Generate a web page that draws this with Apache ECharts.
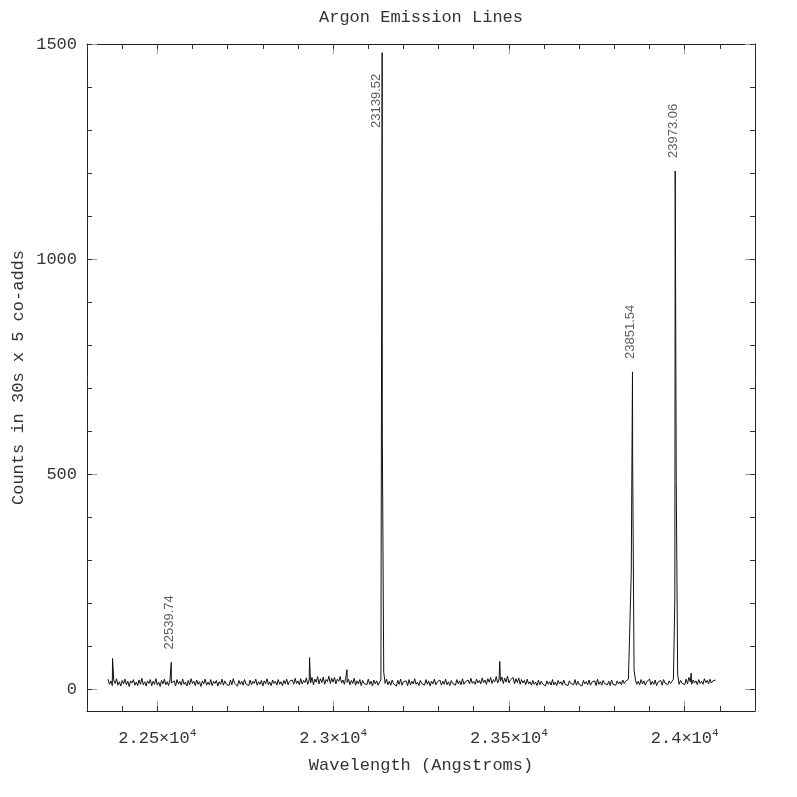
<!DOCTYPE html>
<html><head><meta charset="utf-8">
<script src="https://cdn.jsdelivr.net/npm/echarts@6/dist/echarts.min.js"></script>
<style>html,body{margin:0;padding:0;background:#fff}#c{width:797px;height:797px}</style>
</head><body><div id="c"></div>
<script>
// Spectrum sampled on a regular wavelength grid (Angstroms)
const gridStart = 22360;
const gridStep = 4;
const counts = [
24,12,20,9,22,14,25,10,18,8,21,13,24,11,19,7,20,15,23,10,
17,9,22,12,26,11,18,8,20,14,23,9,19,12,25,10,17,7,21,13,
24,11,18,9,22,15,12,20,8,23,13,19,10,24,12,17,8,21,11,25,
14,19,9,22,12,18,7,20,13,24,10,17,11,23,9,19,14,21,8,18,
12,24,10,20,13,17,9,22,11,25,14,18,8,21,12,19,10,23,13,17,
9,22,11,19,14,24,10,18,12,21,8,20,13,25,11,17,9,22,14,19,
10,23,12,18,9,21,13,24,11,19,15,22,12,26,14,20,11,25,13,21,
16,27,12,22,15,28,11,24,17,30,13,25,16,29,12,23,18,31,14,26,
17,28,13,24,19,30,15,22,12,27,16,24,11,21,14,26,10,20,13,23,
9,21,14,18,11,24,12,19,8,22,13,20,10,17,22,590,40,14,24,11,
19,10,22,13,17,8,21,12,24,10,18,14,20,9,23,11,19,13,25,12,
17,9,21,14,18,10,23,12,20,8,19,13,24,11,17,15,22,10,19,12,
24,11,18,9,21,14,17,10,23,13,20,11,25,12,18,15,22,13,26,14,
19,12,24,15,21,13,27,16,22,12,25,17,28,14,23,18,30,15,24,19,
29,14,26,17,31,15,22,18,28,13,25,16,27,12,23,15,21,11,24,13,
18,10,21,12,17,9,22,11,19,13,16,8,20,12,18,10,23,11,17,9,
21,13,18,10,22,12,16,9,20,14,17,11,23,10,19,12,16,8,21,13,
18,11,22,10,17,13,20,9,24,12,18,10,21,14,17,11,19,9,22,12,
16,10,20,13,18,11,22,14,19,17,24,28,270,535,45,22,12,19,11,23,
13,20,10,18,14,24,11,19,12,22,9,17,13,21,10,23,15,18,11,20,
14,19,24,212,485,35,12,21,15,19,11,24,13,28,18,12,22,15,20,11,
23,14,19,12,25,16,21,13,24,15,20,17,22
];
// Emission line peak samples
const lineWl     = [22372.7, 22539.74, 22933, 23039.5, 23139.52, 23474, 23851.54, 23973.06, 24018.5];
const lineCounts = [72, 63, 74, 46, 1480, 65, 738, 1205, 38];
// Identified (labelled) lines
const labeledLines = [22539.74, 23139.52, 23851.54, 23973.06];

// Axis ticks
const xMajorTicks = [22500, 23000, 23500, 24000];
const xMinorTicks = [22300,22400,22500,22600,22700,22800,22900,23000,23100,23200,23300,23400,23500,23600,23700,23800,23900,24000,24100,24200];
const yMajorTicks = [0, 500, 1000, 1500];
const yMinorTicks = [0,100,200,300,400,500,600,700,800,900,1000,1100,1200,1300,1400,1500];

const X_MIN = 22300, X_MAX = 24200, Y_MIN = -50, Y_MAX = 1500;

const spectrum = counts.map((c, i) => [gridStart + gridStep * i, c]);
lineWl.forEach((w, k) => spectrum.push([w, lineCounts[k]]));
spectrum.sort((a, b) => a[0] - b[0]);

const LABEL_GAP = 30, LABEL_TOP_LIMIT = 1305;
const labelData = labeledLines.map(w => {
  const c = lineCounts[lineWl.indexOf(w)];
  const clamped = c + LABEL_GAP > LABEL_TOP_LIMIT;
  return {
    value: [w, clamped ? LABEL_TOP_LIMIT : c + LABEL_GAP],
    // offset is in the rotated label frame: negative y moves the text left on screen
    label: { offset: [0, clamped ? -6 : -2] }
  };
});

const MONO = 'Liberation Mono';
const TXT = '#333';

function xAxisBase(pos, major) {
  return {
    type: 'value', position: pos, min: X_MIN, max: X_MAX, gridIndex: 0,
    nameMoveOverlap: false,
    axisLine: { show: major, onZero: false, lineStyle: { color: '#222', width: 1 } },
    axisTick: { show: true, inside: true, length: major ? 10 : 5,
      customValues: major ? xMajorTicks : xMinorTicks,
      lineStyle: { color: major ? '#999' : '#333', width: 1 } },
    axisLabel: { show: false },
    splitLine: { show: false }
  };
}
function yAxisBase(pos, major) {
  return {
    type: 'value', position: pos, min: Y_MIN, max: Y_MAX, gridIndex: 0,
    nameMoveOverlap: false,
    axisLine: { show: major, onZero: false, lineStyle: { color: '#222', width: 1 } },
    axisTick: { show: true, inside: true, length: major ? 10 : 5,
      customValues: major ? yMajorTicks : yMinorTicks,
      lineStyle: { color: major ? '#999' : '#333', width: 1 } },
    axisLabel: { show: false },
    splitLine: { show: false }
  };
}

const x0 = xAxisBase('bottom', true);
x0.axisLabel = {
  show: true, margin: 17, customValues: xMajorTicks,
  formatter: v => '{b|' + (v / 1e4) + '×10}{s|4}',
  rich: {
    b: { fontFamily: MONO, fontSize: 17, color: TXT },
    s: { fontFamily: MONO, fontSize: 11, color: TXT, padding: [0, 0, 10, 0] }
  }
};
x0.name = 'Wavelength (Angstroms)';
x0.nameLocation = 'middle';
x0.nameGap = 46;
x0.nameTextStyle = { fontFamily: MONO, fontSize: 17, color: TXT };

const x2 = xAxisBase('top', true);
x2.name = 'Argon Emission Lines';
x2.nameLocation = 'middle';
x2.nameGap = 18;
x2.nameTextStyle = { fontFamily: MONO, fontSize: 17, color: TXT };

const y0 = yAxisBase('left', true);
y0.axisLabel = {
  show: true, margin: 10, customValues: yMajorTicks,
  formatter: v => String(v),
  fontFamily: MONO, fontSize: 17, color: TXT
};
y0.name = 'Counts in 30s x 5 co-adds';
y0.nameLocation = 'middle';
y0.nameGap = 60;
y0.nameRotate = 90;
y0.nameTextStyle = { fontFamily: MONO, fontSize: 17, color: TXT };

const option = {
  animation: false,
  backgroundColor: '#fff',
  grid: { left: 87, right: 42, top: 44, bottom: 86, containLabel: false, outerBoundsMode: 'none' },
  xAxis: [x0, xAxisBase('bottom', false), x2, xAxisBase('top', false)],
  yAxis: [y0, yAxisBase('left', false), yAxisBase('right', true), yAxisBase('right', false)],
  series: [
    {
      type: 'line', xAxisIndex: 0, yAxisIndex: 0,
      data: spectrum, showSymbol: false, symbol: 'none',
      lineStyle: { color: '#111', width: 1 },
      silent: true
    },
    {
      type: 'scatter', xAxisIndex: 0, yAxisIndex: 0,
      symbolSize: 0, silent: true,
      data: labelData,
      label: {
        show: true, position: 'inside', rotate: 90,
        align: 'left', verticalAlign: 'middle',
        formatter: p => p.value[0].toFixed(2),
        fontFamily: 'Liberation Sans', fontSize: 13, color: '#333'
      }
    }
  ]
};
const chart = echarts.init(document.getElementById('c'), null, { renderer: 'canvas' });
chart.setOption(option);
</script>
</body></html>
